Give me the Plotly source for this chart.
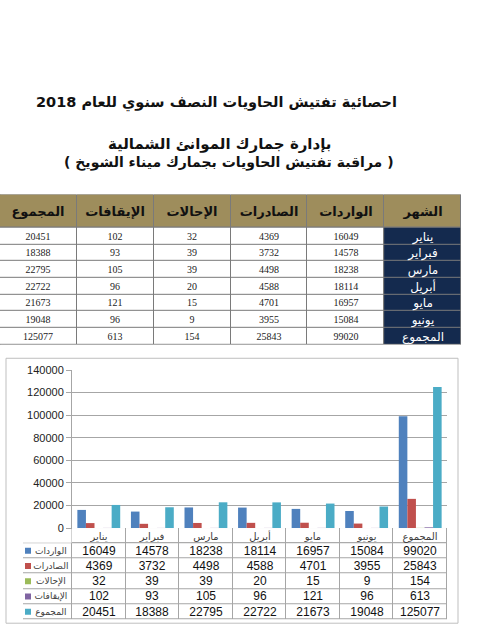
import plotly.graph_objects as go

# ---------------- data ----------------
categories = ["يناير", "فبراير", "مارس", "أبريل", "مايو", "يونيو", "المجموع"]
series_names = ["الواردات", "الصادرات", "الإحالات", "الإيقافات", "المجموع"]
imports_ = [16049, 14578, 18238, 18114, 16957, 15084, 99020]
exports_ = [4369, 3732, 4498, 4588, 4701, 3955, 25843]
referrals = [32, 39, 39, 20, 15, 9, 154]
seizures = [102, 93, 105, 96, 121, 96, 613]
totals = [20451, 18388, 22795, 22722, 21673, 19048, 125077]
table_headers = ["المجموع", "الإيقافات", "الإحالات", "الصادرات", "الواردات", "الشهر"]
y_ticks = [0, 20000, 40000, 60000, 80000, 100000, 120000, 140000]

colors = ["#4F81BD", "#C0504D", "#9BBB59", "#8064A2", "#4BACC6"]
series = [imports_, exports_, referrals, seizures, totals]

W, H = 500, 640
def px(x): return x / W
def py(y): return 1 - y / H

AR = "DejaVu Sans"
KHAKI, NAVY = "#9E8D5C", "#142A4E"
fig = go.Figure()

def solid(c):
    return [[0, c], [1, c]]

# ---------------- top table (heatmap cells on axes x2/y2) ----------------
n_rows = len(categories)
num_cols = [totals, seizures, referrals, exports_, imports_]          # visual order, left→right
n_num = len(num_cols)
hdr_units = 2                                                         # header is two rows tall
col_edges = list(range(n_num + 2))                                    # 0..6
row_edges = [hdr_units + r for r in range(n_rows + 1)]                # 2..9

common = dict(xaxis="x2", yaxis="y2", showscale=False, hoverinfo="skip",
              xgap=1, ygap=1)
fig.add_trace(go.Heatmap(
    x=col_edges, y=[0, hdr_units], z=[[0] * (n_num + 1)],
    colorscale=solid(KHAKI), text=[table_headers], texttemplate="%{text}",
    textfont=dict(family=AR, size=13, color="#111111", weight="bold"), **common))
fig.add_trace(go.Heatmap(
    x=col_edges[:n_num + 1], y=row_edges,
    z=[[0] * n_num for _ in range(n_rows)], colorscale=solid("white"),
    text=[[str(c[r]) for c in num_cols] for r in range(n_rows)],
    texttemplate="%{text}",
    textfont=dict(family="Liberation Serif", size=10, color="#222222"), **common))
fig.add_trace(go.Heatmap(
    x=col_edges[n_num:], y=row_edges, z=[[0] for _ in range(n_rows)],
    colorscale=solid(NAVY), text=[[m] for m in categories], texttemplate="%{text}",
    textfont=dict(family=AR, size=12, color="white"), **common))

# ---------------- bar chart ----------------
for name, vals, col in zip(series_names, series, colors):
    fig.add_trace(go.Bar(x=categories, y=vals, name=name, marker_color=col,
                         marker_line_width=0, showlegend=False, hoverinfo="skip",
                         xaxis="x", yaxis="y"))

# ---------------- data table under the chart (axes x3/y3, pixel-ish units) ----------------
key_w, cat_w = 49, 375 / len(categories)
dt_edges = [0] + [key_w + cat_w * i for i in range(len(categories) + 1)]
n_ser = len(series)
dt_rows = list(range(1, n_ser + 2))
common3 = dict(xaxis="x3", yaxis="y3", showscale=False, hoverinfo="skip",
               xgap=1, ygap=1)
fig.add_trace(go.Heatmap(
    x=dt_edges[1:], y=[0, 1], z=[[0] * len(categories)], colorscale=solid("white"),
    text=[categories], texttemplate="%{text}",
    textfont=dict(family=AR, size=10, color="#404040"), **common3))
fig.add_trace(go.Heatmap(
    x=dt_edges[1:], y=dt_rows, z=[[0] * len(categories) for _ in series],
    colorscale=solid("white"), text=[[str(v) for v in s] for s in series],
    texttemplate="%{text}",
    textfont=dict(family="Liberation Sans", size=12, color="#111111"), **common3))
fig.add_trace(go.Heatmap(
    x=dt_edges[:2], y=dt_rows, z=[[0] for _ in series], colorscale=solid("white"),
    text=[["\u00a0\u00a0" + n] for n in series_names], texttemplate="%{text}",
    textfont=dict(family=AR, size=9, color="#404040"), **common3))
# legend keys inside the first column
fig.add_trace(go.Scatter(
    x=[5] * n_ser, y=[r + 0.5 for r in range(1, n_ser + 1)], mode="markers",
    marker=dict(symbol="square", size=6, color=colors), hoverinfo="skip",
    showlegend=False, xaxis="x3", yaxis="y3"))

hidden = dict(visible=False, showgrid=False, zeroline=False, fixedrange=True)
fig.update_layout(
    width=W, height=H,
    margin=dict(l=0, r=0, t=0, b=0),
    paper_bgcolor="white", plot_bgcolor="rgba(0,0,0,0)",
    barmode="group", bargap=0.2, bargroupgap=0,
    xaxis=dict(domain=[px(72), px(447)], showticklabels=False, ticks="",
               showline=True, linecolor="#A6A6A6", showgrid=False, zeroline=False,
               categoryorder="array", categoryarray=categories, fixedrange=True),
    yaxis=dict(domain=[py(532), py(371)], range=[0, 140000], tickvals=y_ticks,
               tickformat="d", showgrid=True, gridcolor="#A6A6A6", gridwidth=1,
               ticks="outside", ticklen=5, tickcolor="#A6A6A6",
               showline=True, linecolor="#A6A6A6", zeroline=False, fixedrange=True,
               tickfont=dict(family="Liberation Sans", size=11, color="#222222")),
    xaxis2=dict(domain=[px(0), px(461)], range=[0, n_num + 1], anchor="y2", **hidden),
    yaxis2=dict(domain=[py(345), py(192)], range=[row_edges[-1], 0], anchor="x2", **hidden),
    xaxis3=dict(domain=[px(23), px(447)], range=[0, dt_edges[-1]], anchor="y3", **hidden),
    yaxis3=dict(domain=[py(625), py(532)], range=[n_ser + 1, 0], anchor="x3", **hidden),
    shapes=[
        dict(type="rect", xref="paper", yref="paper",
             x0=px(6), x1=px(458), y0=py(629), y1=py(359),
             line=dict(color="#BFBFBF", width=1), fillcolor="white", layer="below"),
        # grid-line colour behind the table cells
        dict(type="rect", xref="x2", yref="y2", x0=0, x1=n_num + 1, y0=0, y1=row_edges[-1],
             line=dict(color="#7A7A7A", width=1), fillcolor="#7A7A7A", layer="below"),
        dict(type="rect", xref="x3", yref="y3", x0=dt_edges[1], x1=dt_edges[-1], y0=0, y1=1,
             line=dict(color="#A6A6A6", width=1), fillcolor="#A6A6A6", layer="below"),
        dict(type="rect", xref="x3", yref="y3", x0=0, x1=dt_edges[-1], y0=1, y1=n_ser + 1,
             line=dict(color="#A6A6A6", width=1), fillcolor="#A6A6A6", layer="below"),
    ],
    annotations=[
        dict(text="<b>احصائية تفتيش الحاويات النصف سنوي للعام 2018</b>",
             x=px(216), y=py(104 - 16), xref="paper", yref="paper", showarrow=False,
             font=dict(family=AR, size=14.5, color="#111111")),
        dict(text="<b>بإدارة جمارك الموانئ الشمالية</b>",
             x=px(219), y=py(143 - 14), xref="paper", yref="paper", showarrow=False,
             font=dict(family=AR, size=15, color="#111111")),
        dict(text="<b>( مراقبة تفتيش الحاويات بجمارك ميناء الشويخ )</b>",
             x=px(229), y=py(163 - 14), xref="paper", yref="paper", showarrow=False,
             font=dict(family=AR, size=14, color="#111111")),
    ],
)

fig.write_html("out.html", config={"displayModeBar": False, "staticPlot": True},
               post_script="document.body.style.margin='0';")
